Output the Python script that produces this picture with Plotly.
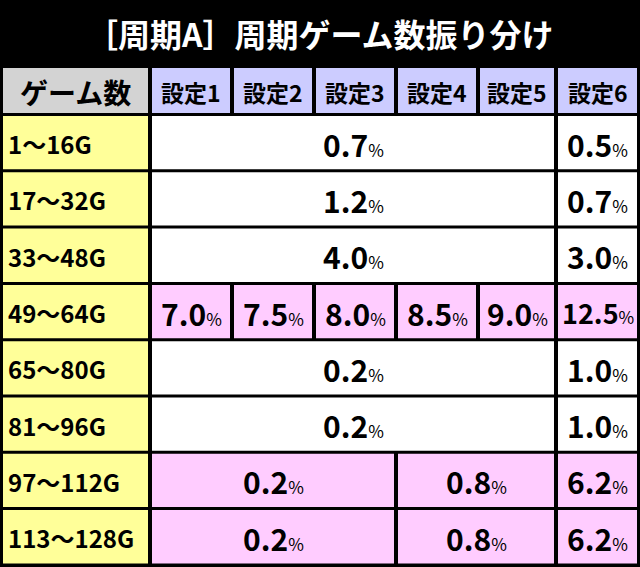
import plotly.graph_objects as go

title = "［周期A］周期ゲーム数振り分け"
header = ["ゲーム数", "設定1", "設定2", "設定3", "設定4", "設定5", "設定6"]
row_labels = ["1～16G", "17～32G", "33～48G", "49～64G", "65～80G", "81～96G", "97～112G", "113～128G"]
# each row: (first column, span, value)
row_cells = [
    [(0, 5, "0.7"), (5, 1, "0.5")],
    [(0, 5, "1.2"), (5, 1, "0.7")],
    [(0, 5, "4.0"), (5, 1, "3.0")],
    [(0, 1, "7.0"), (1, 1, "7.5"), (2, 1, "8.0"), (3, 1, "8.5"), (4, 1, "9.0"), (5, 1, "12.5")],
    [(0, 5, "0.2"), (5, 1, "1.0")],
    [(0, 5, "0.2"), (5, 1, "1.0")],
    [(0, 3, "0.2"), (3, 2, "0.8"), (5, 1, "6.2")],
    [(0, 3, "0.2"), (3, 2, "0.8"), (5, 1, "6.2")],
]
row_colors = ["white", "white", "white", "#ffccff", "white", "white", "#ffccff", "#ffccff"]

col_edges = [3, 151, 233, 315, 397, 479, 557, 637]
gap = 3
header_top, header_bot = 68, 113
row_top, row_h = 116, 56.3
font = "Noto Sans CJK JP"

shapes, annots = [], []

def rect(x0, x1, y0, y1, color):
    shapes.append(dict(type="rect", xref="x", yref="y", x0=x0, x1=x1, y0=y0, y1=y1,
                       fillcolor=color, line=dict(width=0), layer="below"))

def text(x, y, s, size, color="black"):
    annots.append(dict(x=x, y=y, xref="x", yref="y", text=s, showarrow=False,
                       font=dict(family=font, size=size, color=color)))

# background and title
rect(0, 640, 0, 567, "black")
text(320, 33, "<b>" + title + "</b>", 32, "white")

# header
for i, h in enumerate(header):
    x0 = col_edges[i] + (0 if i == 0 else 1)
    x1 = col_edges[i + 1] - (gap if i < 6 else 0)
    rect(x0, x1, header_top, header_bot, "#d3d3d3" if i == 0 else "#ccccff")
    text((x0 + x1) / 2, (header_top + header_bot) / 2 + 1, "<b>" + h + "</b>", 28 if i == 0 else 23)

# body rows
for r, lab in enumerate(row_labels):
    y0 = row_top + r * row_h
    y1 = y0 + row_h - gap
    rect(col_edges[0], col_edges[1] - gap, y0, y1, "#ffff99")
    text(col_edges[0] + 3, (y0 + y1) / 2 + 1, "<b>" + lab + "</b>", 24)
    annots[-1].update(xanchor="left")
    for c, span, v in row_cells[r]:
        x0 = col_edges[c + 1] + 1
        x1 = col_edges[c + 1 + span] - (gap if c + span < 6 else 0)
        rect(x0, x1, y0, y1, row_colors[r])
        size = 27 if v == "12.5" else 30
        text((x0 + x1) / 2, (y0 + y1) / 2 + 1,
             "<b>" + v + "</b><span style='font-size:17px'>%</span>", size)

fig = go.Figure()
fig.update_layout(
    width=640, height=567, margin=dict(l=0, r=0, t=0, b=0),
    paper_bgcolor="black", plot_bgcolor="black",
    xaxis=dict(range=[0, 640], visible=False, fixedrange=True),
    yaxis=dict(range=[567, 0], visible=False, fixedrange=True),
    shapes=shapes, annotations=annots, showlegend=False,
)
fig.write_html("out.html", config={"displayModeBar": False},
               post_script="document.body.style.margin='0';document.body.style.overflow='hidden';")
